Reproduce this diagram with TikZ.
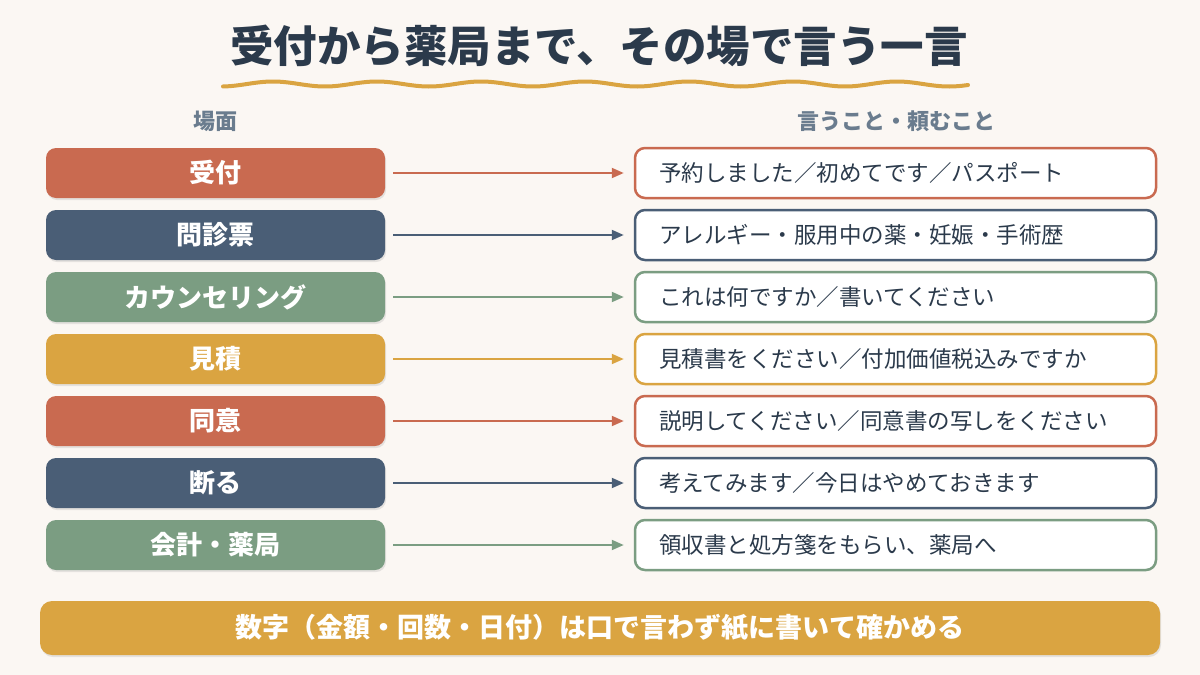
\documentclass[tikz,border=0pt]{standalone}
\usepackage{fontspec}
\setmainfont{Noto Sans CJK JP}
\usetikzlibrary{shadows,arrows.meta}
\definecolor{bg}{HTML}{FBF7F3}
\definecolor{cred}{HTML}{C96A50}
\definecolor{cnavy}{HTML}{4A5E76}
\definecolor{cgreen}{HTML}{7B9D82}
\definecolor{cgold}{HTML}{DAA441}
\definecolor{ink}{HTML}{2B3A4B}
\definecolor{hdr}{HTML}{6A7C8E}
\tikzset{
  lbox/.style={rounded corners=10pt, minimum width=339pt, minimum height=50pt, inner sep=0pt,
    text=white, font=\fontsize{26}{28}\selectfont\bfseries,
    drop shadow={opacity=0.18, shadow xshift=1pt, shadow yshift=-2pt}},
  rbox/.style={rounded corners=10pt, fill=white, line width=2.5pt, minimum height=50pt,
    inner xsep=24pt, inner ysep=0pt, text width=473pt, align=left,
    text=ink, font=\fontsize{22.5}{26}\selectfont},
  arr/.style={line width=2pt, -{Triangle[length=12pt,width=10pt]}, shorten <=8pt, shorten >=10pt},
  hdrtext/.style={text=hdr, font=\fontsize{22}{26}\selectfont\bfseries},
}
\begin{document}
\begin{tikzpicture}[x=1pt,y=-1pt]
\fill[bg] (0,0) rectangle (1200,675);
\useasboundingbox (0,0) rectangle (1200,675);
\node[text=ink, font=\fontsize{43.5}{48}\selectfont\bfseries] (title) at (599,46) {受付から薬局まで、その場で言う一言};
\draw[cgold, line width=4pt, line cap=round] plot[domain=223:968, samples=240, smooth] (\x, {84-2.5*cos((\x-273)/104*360)});
\node[hdrtext] (h1) at (215,121) {場面};
\node[hdrtext] (h2) at (896,121) {言うこと・頼むこと};
\foreach \i/\y/\c/\a/\b in {
 1/173/cred/受付/予約しました／初めてです／パスポート,
 2/235/cnavy/問診票/アレルギー・服用中の薬・妊娠・手術歴,
 3/297/cgreen/カウンセリング/これは何ですか／書いてください,
 4/359/cgold/見積/見積書をください／付加価値税込みですか,
 5/421/cred/同意/説明してください／同意書の写しをください,
 6/483/cnavy/断る/考えてみます／今日はやめておきます,
 7/545/cgreen/会計・薬局/領収書と処方箋をもらい、薬局へ}{
  \node[lbox, fill=\c] (l\i) at (215.5,\y) {\a};
  \node[rbox, draw=\c] (r\i) at (895.5,\y) {\b};
  \draw[arr, \c] (l\i) -- (r\i);
}
\node[rounded corners=12pt, fill=cgold, minimum width=1120pt, minimum height=54pt, inner sep=0pt,
  text=white, font=\fontsize{27}{30}\selectfont\bfseries,
  drop shadow={opacity=0.18, shadow xshift=1pt, shadow yshift=-2pt}] (banner) at (600,628)
  {数字（金額・回数・日付）は口で言わず紙に書いて確かめる};
\end{tikzpicture}
\end{document}
